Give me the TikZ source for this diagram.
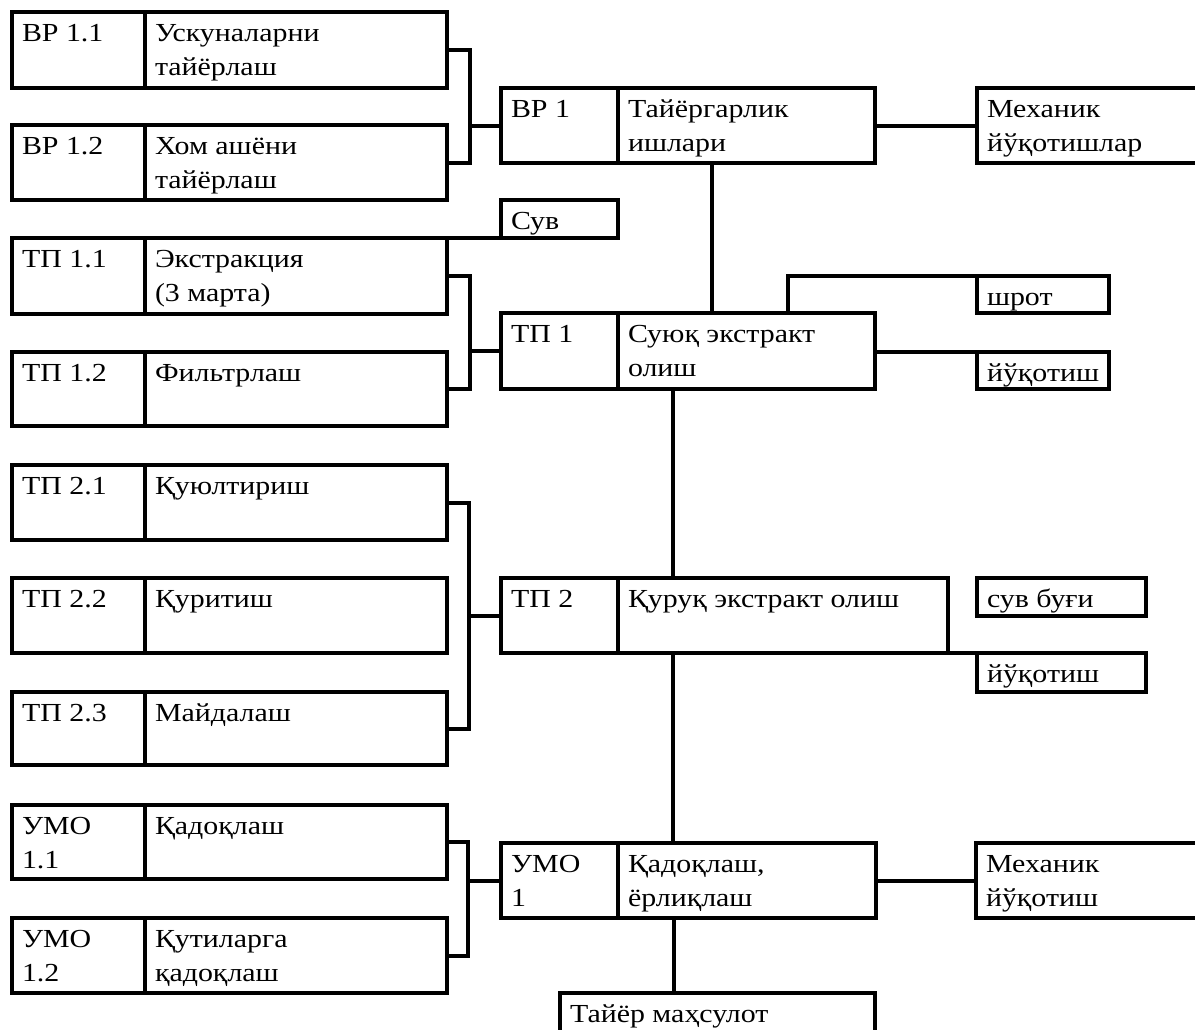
\documentclass[tikz,border=0pt]{standalone}
\usepackage{fontspec}
\setmainfont{Liberation Serif}[FakeStretch=1.15]
\newcommand{\bxt}[3]{\parbox[c][#2][t]{#1}{\raggedright\leftskip=10pt\relax\parindent=0pt\fontsize{26}{34}\selectfont\rule{0pt}{29pt}#3}}
\tikzset{
  cellbox/.style={draw, line width=4pt, anchor=north west, inner sep=0pt, outer sep=0pt},
  wire/.style={line width=4pt, line cap=rect}
}
\begin{document}
\begin{tikzpicture}[x=1pt,y=-1pt]
\useasboundingbox[fill=white] (0,0) rectangle (1195,1029);
% ---- BP group
\node[cellbox] (bp11a) at (12,12) {\bxt{133pt}{76pt}{ВР 1.1}};
\node[cellbox] (bp11b) at (145,12) {\bxt{302pt}{76pt}{Ускуналарни\\тайёрлаш}};
\node[cellbox] (bp12a) at (12,125) {\bxt{133pt}{75pt}{ВР 1.2}};
\node[cellbox] (bp12b) at (145,125) {\bxt{302pt}{75pt}{Хом ашёни\\тайёрлаш}};
\node[cellbox] (bp1a) at (501,88) {\bxt{117pt}{75pt}{ВР 1}};
\node[cellbox] (bp1b) at (618,88) {\bxt{257pt}{75pt}{Тайёргарлик\\ишлари}};
\node[cellbox] (mech1) at (977,88) {\bxt{233pt}{75pt}{Механик\\йўқотишлар}};
% ---- TP1 group
\node[cellbox] (suv) at (501,200) {\bxt{117pt}{38pt}{Сув}};
\node[cellbox] (tp11a) at (12,238) {\bxt{133pt}{76pt}{ТП 1.1}};
\node[cellbox] (tp11b) at (145,238) {\bxt{302pt}{76pt}{Экстракция\\(3 марта)}};
\node[cellbox] (tp12a) at (12,352) {\bxt{133pt}{74pt}{ТП 1.2}};
\node[cellbox] (tp12b) at (145,352) {\bxt{302pt}{74pt}{Фильтрлаш}};
\node[cellbox] (tp1a) at (501,313) {\bxt{117pt}{76pt}{ТП 1}};
\node[cellbox] (tp1b) at (618,313) {\bxt{257pt}{76pt}{Суюқ экстракт\\олиш}};
\node[cellbox] (shrot) at (977,276) {\bxt{132pt}{37pt}{шрот}};
\node[cellbox] (yuq1) at (977,352) {\bxt{132pt}{37pt}{йўқотиш}};
% ---- TP2 group
\node[cellbox] (tp21a) at (12,465) {\bxt{133pt}{75pt}{ТП 2.1}};
\node[cellbox] (tp21b) at (145,465) {\bxt{302pt}{75pt}{Қуюлтириш}};
\node[cellbox] (tp22a) at (12,578) {\bxt{133pt}{75pt}{ТП 2.2}};
\node[cellbox] (tp22b) at (145,578) {\bxt{302pt}{75pt}{Қуритиш}};
\node[cellbox] (tp23a) at (12,692) {\bxt{133pt}{73pt}{ТП 2.3}};
\node[cellbox] (tp23b) at (145,692) {\bxt{302pt}{73pt}{Майдалаш}};
\node[cellbox] (tp2a) at (501,578) {\bxt{117pt}{75pt}{ТП 2}};
\node[cellbox] (tp2b) at (618,578) {\bxt{330pt}{75pt}{Қуруқ экстракт олиш}};
\node[cellbox] (bug) at (977,578) {\bxt{169pt}{38pt}{сув буғи}};
\node[cellbox] (yuq2) at (977,653) {\bxt{169pt}{39pt}{йўқотиш}};
% ---- UMO group
\node[cellbox] (umo11a) at (12,805) {\bxt{133pt}{74pt}{УМО\\1.1}};
\node[cellbox] (umo11b) at (145,805) {\bxt{302pt}{74pt}{Қадоқлаш}};
\node[cellbox] (umo12a) at (12,918) {\bxt{133pt}{75pt}{УМО\\1.2}};
\node[cellbox] (umo12b) at (145,918) {\bxt{302pt}{75pt}{Қутиларга\\қадоқлаш}};
\node[cellbox] (umo1a) at (501,843) {\bxt{117pt}{75pt}{УМО\\1}};
\node[cellbox] (umo1b) at (618,843) {\bxt{258pt}{75pt}{Қадоқлаш,\\ёрлиқлаш}};
\node[cellbox] (mech2) at (976,843) {\bxt{234pt}{75pt}{Механик\\йўқотиш}};
\node[cellbox] (tayyor) at (560,993) {\bxt{315pt}{60pt}{Тайёр маҳсулот}};
% ---- brackets
\draw[wire] (bp11b.east) -| ([xshift=-31pt]bp1a.west) |- (bp12b.east);
\draw[wire] ([xshift=-31pt]bp1a.west) -- (bp1a.west);
\draw[wire] (tp11b.east) -| ([xshift=-31pt]tp1a.west) |- (tp12b.east);
\draw[wire] ([xshift=-31pt]tp1a.west) -- (tp1a.west);
\draw[wire] (tp21b.east) -| ([xshift=-32pt]tp2a.west) |- (tp23b.east);
\draw[wire] ([xshift=-32pt]tp2a.west) -- (tp2a.west);
\draw[wire] (umo11b.east) -| ([xshift=-33pt]umo1a.west) |- (umo12b.east);
\draw[wire] ([xshift=-33pt]umo1a.west) -- (umo1a.west);
% ---- side connectors
\draw[wire] (bp1b.east) -- (mech1.west);
\draw[wire] (tp11b.north east) -- (suv.south west);
\draw[wire] ([xshift=170pt]tp1b.north west) |- (shrot.north west);
\draw[wire] (yuq1.north west -| tp1b.east) -- (yuq1.north west);
\draw[wire] (tp2b.south east) -- (yuq2.north west);
\draw[wire] (umo1b.east) -- (mech2.west);
% ---- spine
\draw[wire] ([xshift=94pt]bp1b.south west) -- ([xshift=94pt]tp1b.north west);
\draw[wire] ([xshift=55pt]tp1b.south west) -- ([xshift=55pt]tp2b.north west);
\draw[wire] ([xshift=55pt]tp2b.south west) -- ([xshift=55pt]umo1b.north west);
\draw[wire] ([xshift=56pt]umo1b.south west) -- ([xshift=56pt]umo1b.south west |- tayyor.north);
\end{tikzpicture}
\end{document}
